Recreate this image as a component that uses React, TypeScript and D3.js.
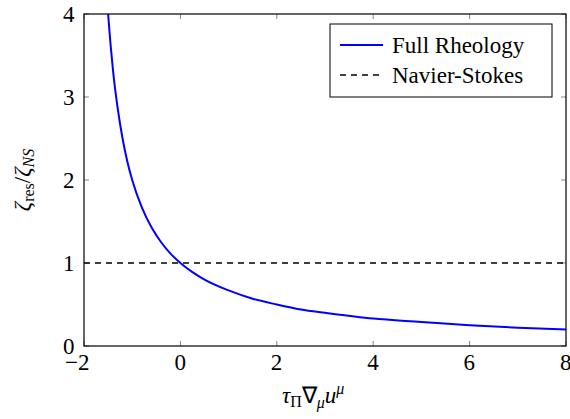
import React from "react";
import * as d3 from "d3";

// values
const xs = [-1.5, -1.45, -1.4, -1.3, -1.2, -1.1, -1.0, -0.8, -0.6, -0.4, -0.2, 0, 0.25, 0.5, 1, 1.5, 2, 2.5, 3, 4, 5, 6, 7, 8];
const fullRheology = [4.0, 3.64, 3.33, 2.86, 2.5, 2.22, 2.0, 1.67, 1.43, 1.25, 1.11, 1.0, 0.89, 0.8, 0.67, 0.57, 0.5, 0.44, 0.4, 0.33, 0.29, 0.25, 0.22, 0.2];
const navierStokes = 1;
const xTicks = [-2, 0, 2, 4, 6, 8];
const yTicks = [0, 1, 2, 3, 4];
const legendLabels = ["Full Rheology", "Navier-Stokes"];

const width = 570;
const height = 419;
const margin = { top: 14, right: 4, bottom: 73, left: 84 };
const tl = 5; // inward tick length

export default function App() {
  const x = d3.scaleLinear().domain([-2, 8]).range([margin.left, width - margin.right]);
  const y = d3.scaleLinear().domain([0, 4]).range([height - margin.bottom, margin.top]);

  const line = d3.line<number>()
    .x((_, i) => x(xs[i]))
    .y((d) => y(d))
    .curve(d3.curveMonotoneX);

  const font = { fontFamily: `"Liberation Serif"`, fontSize: "23px" };
  const px0 = x(-2), px1 = x(8), py0 = y(0), py1 = y(4);

  return (
    <svg width={width} height={height} style={{ position: "absolute", left: 0, top: 0 }}>
      <clipPath id="plot-clip">
        <rect x={px0} y={py1} width={px1 - px0} height={py0 - py1} />
      </clipPath>

      {/* ticks on all four sides */}
      {xTicks.map((t) => (
        <g key={"x" + t}>
          <line x1={x(t)} x2={x(t)} y1={py0} y2={py0 - tl} stroke="#888" />
          <line x1={x(t)} x2={x(t)} y1={py1} y2={py1 + tl} stroke="#888" />
        </g>
      ))}
      {xTicks.map((t) => (
        <text key={"xl" + t} x={x(t) - (t < 0 ? 19 : 6)} y={py0 + 24} style={font}>
          {t < 0 ? "\u2212" + Math.abs(t) : String(t)}
        </text>
      ))}
      {yTicks.map((t) => (
        <g key={"y" + t}>
          <line x1={px0} x2={px0 + tl} y1={y(t)} y2={y(t)} stroke="#888" />
          <line x1={px1} x2={px1 - tl} y1={y(t)} y2={y(t)} stroke="#888" />
        </g>
      ))}
      {yTicks.map((t) => (
        <text key={"yl" + t} x={px0 - 21} y={y(t) + 8} style={font}>
          {String(t)}
        </text>
      ))}

      <g clipPath="url(#plot-clip)">
        <line x1={px0} x2={px1} y1={y(navierStokes)} y2={y(navierStokes)}
          stroke="#000" strokeWidth={1.3} strokeDasharray="6,5" />
        <path d={line(fullRheology) || ""} fill="none" stroke="#0000ff" strokeWidth={2} />
      </g>

      <rect x={px0} y={py1} width={px1 - px0} height={py0 - py1}
        fill="none" stroke="#000" strokeWidth={1.2} />

      {/* legend */}
      <rect x={330} y={24} width={222} height={73} fill="#fff" stroke="#000" />
      {legendLabels.map((lab, i) => (
        <line key={"ll" + lab} x1={340} x2={383} y1={45 + i * 30} y2={45 + i * 30}
          stroke={i === 0 ? "#0000ff" : "#000"}
          strokeWidth={i === 0 ? 2 : 1.3}
          strokeDasharray={i === 0 ? undefined : "6,5"} />
      ))}
      {legendLabels.map((lab, i) => (
        <text key={"lt" + lab} x={392} y={53 + i * 30} style={font}>
          {lab}
        </text>
      ))}

      {/* axis labels */}
      <text x={282} y={403} style={font}>
        <tspan fontStyle="italic">{"\u03c4"}</tspan>
        <tspan style={{ fontSize: "16px" }} dy={4}>{"\u03a0"}</tspan>
        <tspan dy={-4}>{"\u2207"}</tspan>
        <tspan style={{ fontSize: "16px" }} fontStyle="italic" dy={5}>{"\u03bc"}</tspan>
        <tspan fontStyle="italic" dy={-5}>u</tspan>
        <tspan style={{ fontSize: "16px" }} fontStyle="italic" dy={-9}>{"\u03bc"}</tspan>
      </text>

      <text transform={`translate(30,${(py0 + py1) / 2}) rotate(-90)`} textAnchor="middle" style={font}>
        <tspan fontStyle="italic">{"\u03b6"}</tspan>
        <tspan style={{ fontSize: "16px" }} dy={4}>res</tspan>
        <tspan dy={-4}>/</tspan>
        <tspan fontStyle="italic">{"\u03b6"}</tspan>
        <tspan style={{ fontSize: "16px" }} fontStyle="italic" dy={4}>NS</tspan>
      </text>
    </svg>
  );
}
